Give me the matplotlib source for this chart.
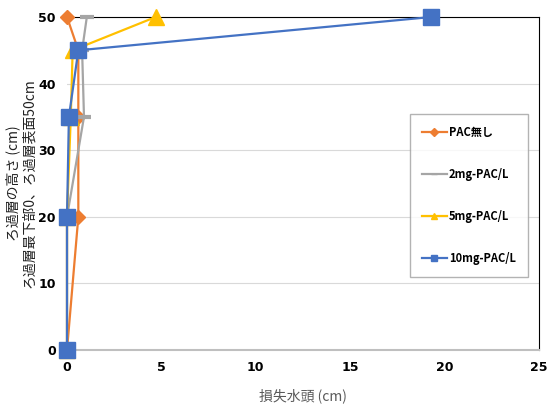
import matplotlib.pyplot as plt
from matplotlib.lines import Line2D

plt.rcParams['font.family'] = ['Noto Sans CJK JP', 'DejaVu Sans']

# データ (損失水頭 cm, ろ過層の高さ cm)
depth = [50, 45, 35, 20, 0]
loss_none = [0.0, 0.6, 0.6, 0.6, 0.0]
loss_2mg = [1.05, 0.8, 0.9, 0.0, 0.0]
loss_5mg = [4.7, 0.3, 0.2, 0.0, 0.0]
loss_10mg = [19.3, 0.6, 0.1, 0.0, 0.0]
labels = ["PAC無し", "2mg-PAC/L", "5mg-PAC/L", "10mg-PAC/L"]
xticks = [0, 5, 10, 15, 20, 25]
yticks = [0, 10, 20, 30, 40, 50]

c_orange = "#ed7d31"
c_gray = "#a5a5a5"
c_yellow = "#ffc000"
c_blue = "#4472c4"

fig = plt.figure(figsize=(5.47, 4.05), dpi=100)
ax = fig.add_axes([0.1225, 0.1358, 0.8625, 0.8222])

ax.plot(loss_none, depth, color=c_orange, lw=1.6, marker="D", ms=7, zorder=3, clip_on=False)
ax.plot(loss_2mg, depth, color=c_gray, lw=1.6, marker="_", ms=10, mew=3, zorder=3, clip_on=False)
ax.plot(loss_5mg, depth, color=c_yellow, lw=1.6, marker="^", ms=11, zorder=3, clip_on=False)
ax.plot(loss_10mg, depth, color=c_blue, lw=1.6, marker="s", ms=11, zorder=4, clip_on=False)

ax.set_xlim(0, 25)
ax.set_ylim(0, 50)
ax.set_xticks(xticks)
ax.set_xticklabels([str(v) for v in xticks])
ax.set_yticks(yticks)
ax.set_yticklabels([str(v) for v in yticks])
ax.tick_params(length=0, pad=8)
for t in ax.get_xticklabels() + ax.get_yticklabels():
    t.set_family("DejaVu Sans")
    t.set_fontweight("bold")
    t.set_fontsize(9)

ax.grid(True, axis="y", color="#d9d9d9", lw=0.8)
ax.set_axisbelow(True)
ax.spines["top"].set_color("black")
ax.spines["right"].set_color("black")
ax.spines["bottom"].set_color("#bfbfbf")
ax.spines["bottom"].set_linewidth(1.5)
ax.spines["left"].set_visible(False)

ax.set_xlabel("損失水頭 (cm)", fontsize=10, color="#595959", labelpad=10)
ax.set_ylabel("ろ過層の高さ (cm)\nろ過層最下部0、ろ過層表面50cm", fontsize=10,
              color="#222222", labelpad=2, linespacing=1.1)

handles = [
    Line2D([], [], color=c_orange, lw=1.6, marker="D", ms=4),
    Line2D([], [], color=c_gray, lw=1.6, marker="_", ms=5),
    Line2D([], [], color=c_yellow, lw=1.6, marker="^", ms=5),
    Line2D([], [], color=c_blue, lw=1.6, marker="s", ms=5),
]
leg = ax.legend(handles, labels, loc="upper left", bbox_to_anchor=(0.715, 0.725),
                frameon=True, fancybox=False, edgecolor="#a0a0a0",
                labelspacing=2.6, handlelength=2.2, handletextpad=0.2,
                borderpad=1.1, prop={"size": 8, "weight": "bold"})
leg.get_frame().set_linewidth(1.0)

fig.savefig("out.png", dpi=100)
